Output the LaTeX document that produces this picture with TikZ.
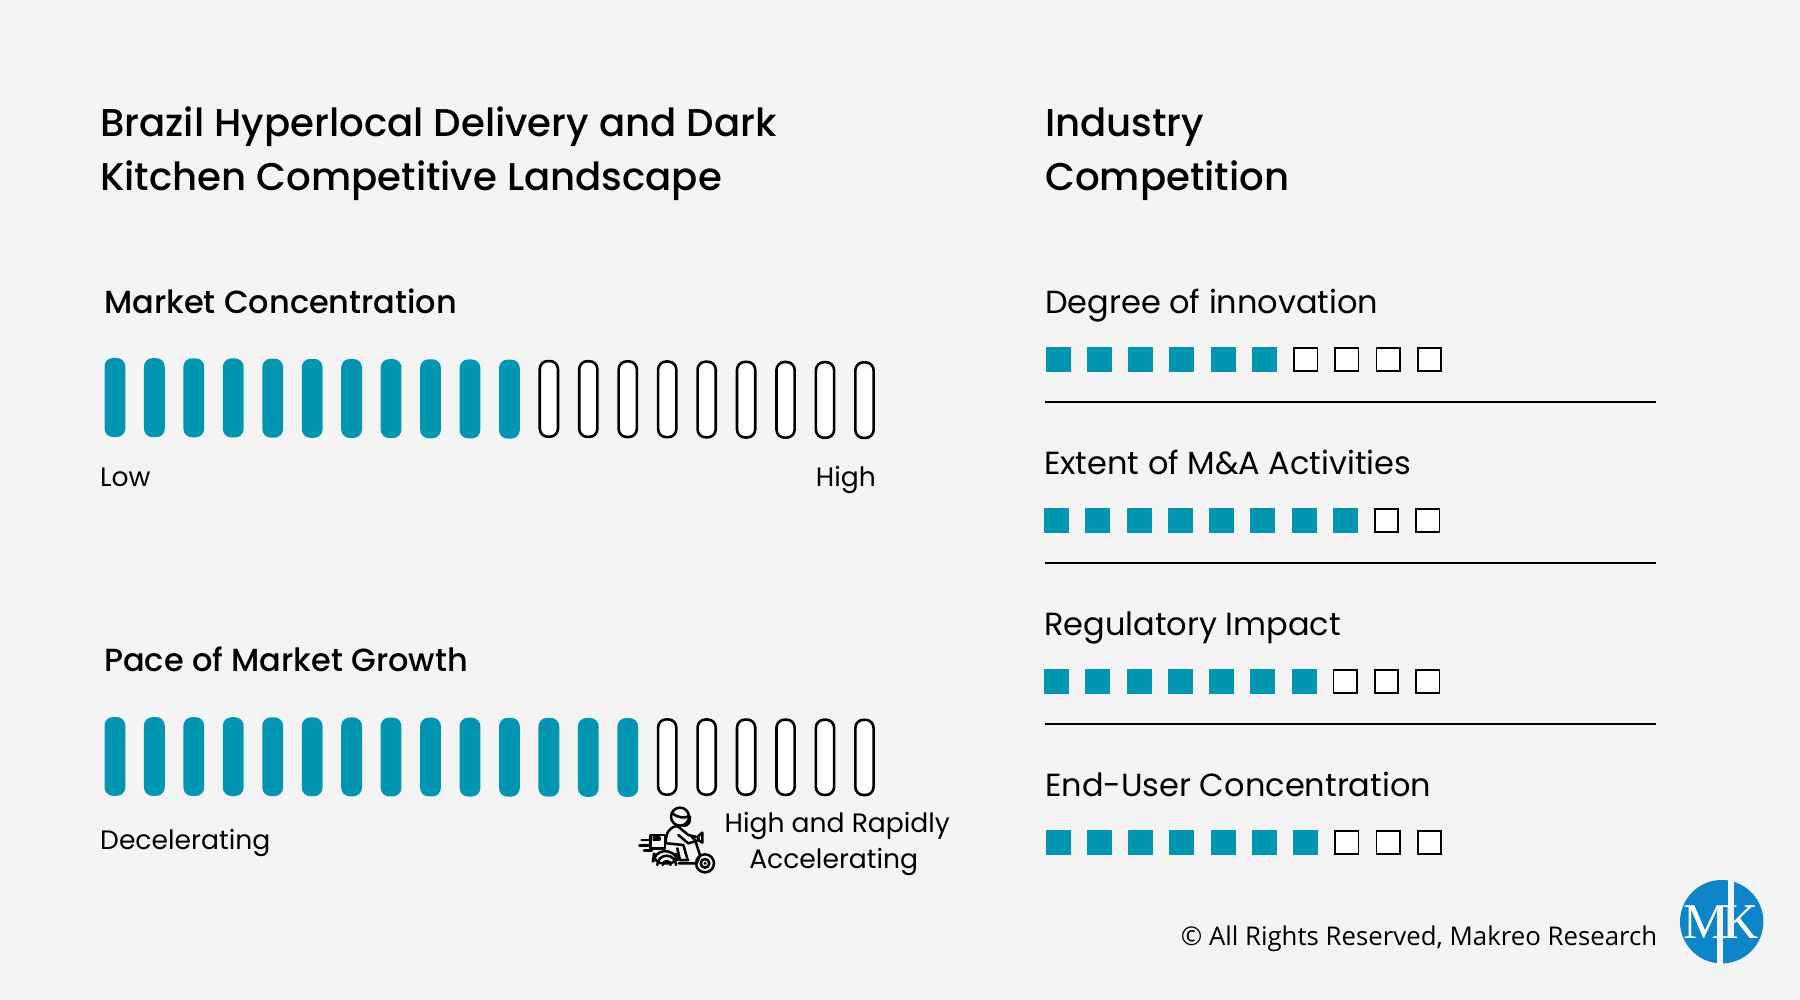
\documentclass[tikz,border=0pt]{standalone}
\usepackage{fontspec}
\setmainfont{Poppins}
\newfontfamily\pmed{Poppins Medium}
\newfontfamily\osans{Open Sans}
\newfontfamily\lserif{Liberation Serif}
\definecolor{bgc}{HTML}{F4F4F4}
\definecolor{teal}{HTML}{0396B3}
\definecolor{logoblue}{HTML}{0E85C8}
\tikzset{
  x=1pt,y=-1pt,
  ttl/.style={anchor=base west,inner sep=0pt,font=\pmed\fontsize{38.7}{38.7}\selectfont},
  head/.style={anchor=base west,inner sep=0pt,font=\pmed\fontsize{32}{38}\selectfont},
  sub/.style={anchor=base west,inner sep=0pt,font=\fontsize{32}{38}\selectfont},
  small/.style={inner sep=0pt,font=\fontsize{26.6}{36}\selectfont},
  barfull/.style={fill=teal,rounded corners=8.5pt},
  barempty/.style={draw=black,fill=white,line width=2.6pt,rounded corners=8pt},
  sqfull/.style={fill=teal},
  sqempty/.style={draw=black,fill=white,line width=1.6pt},
  rule/.style={draw=black,line width=2pt},
  ico/.style={draw=black,line width=2.5pt,line cap=round,line join=round},
  logotxt/.style={inner sep=0pt,text=white,font=\lserif\fontsize{50}{50}\selectfont,anchor=base},
}
\begin{document}
\begin{tikzpicture}
\path[fill=bgc] (0,0) rectangle (1800,1000);
\useasboundingbox (0,0) rectangle (1800,1000);
% titles
\node[ttl] (t1) at (100,137) {Brazil Hyperlocal Delivery and Dark};
\node[ttl] (t2) at (100,191) {Kitchen Competitive Landscape};
\node[ttl] (t3) at (1045,137) {Industry};
\node[ttl] (t4) at (1045,191) {Competition};
% left headings
\node[head] (mc) at (104,314) {Market Concentration};
\node[head] (pg) at (104,671) {Pace of Market Growth};
% bars row 1
\foreach \i in {0,...,19}{
  \pgfmathsetmacro{\xa}{104.5+\i*39.45}
  \pgfmathsetmacro{\ya}{358+\i*0.16}
  \ifnum\i<11
    \path[barfull] (\xa,\ya) rectangle ++(20.8,79);
  \else
    \path[barempty] (\xa+1.3,\ya+1.3) rectangle ++(18.2,75.6);
  \fi
}
% bars row 2
\foreach \i in {0,...,19}{
  \pgfmathsetmacro{\xa}{104.5+\i*39.45}
  \pgfmathsetmacro{\ya}{717+\i*0.08}
  \ifnum\i<14
    \path[barfull] (\xa,\ya) rectangle ++(20.8,78.8);
  \else
    \path[barempty] (\xa+1.3,\ya+1.3) rectangle ++(18.2,75.2);
  \fi
}
\node[small,anchor=base west] (low) at (100,486) {Low};
\node[small,anchor=base east] (high) at (876,486) {High};
\node[small,anchor=base west] (dec) at (100,849) {Decelerating};
\node[small,anchor=base] (hr) at (837.3,832) {High and Rapidly};
\node[small,anchor=base] (ac) at (833.7,868.5) {Accelerating};
% right column
\node[sub] (d1) at (1045,314) {Degree of innovation};
\node[sub] (d2) at (1044,474) {Extent of M\&A Activities};
\node[sub] (d3) at (1044,635) {Regulatory Impact};
\node[sub] (d4) at (1045,796) {End-User Concentration};
\foreach \yy/\xx/\n in {347/1045.7/6,508/1044/8,669/1044/7,830/1045.7/7}{
  \foreach \i in {0,...,9}{
    \pgfmathsetmacro{\xa}{\xx+\i*41.25}
    \ifnum\i<\n
      \path[sqfull] (\xa,\yy) rectangle ++(25,25);
    \else
      \path[sqempty] (\xa+.8,\yy+.8) rectangle ++(23.4,23.4);
    \fi
  }
}
\draw[rule] (1045,402) -- (1656,402);
\draw[rule] (1045,563) -- (1656,563);
\draw[rule] (1045,724) -- (1656,724);
% footer
\node[anchor=base east,inner sep=0pt,font=\osans\fontsize{25.8}{30}\selectfont] (fo) at (1657.5,945.3) {© All Rights Reserved, Makreo Research};
% logo
\fill[logoblue] (1721.7,921.7) circle (41.7);
\node[logotxt] (lm) at (1705.5,938.3) {M};
\node[logotxt] (lk) at (1741,938.3) {K};
\fill[bgc] (1717.3,907) rectangle (1723.3,964);
\fill[bgc] (1728.3,880) rectangle (1734,938);
% rider icon
\begin{scope}[shift={(620,780)},xscale=1/3,yscale=1/3]
\draw[ico] (180,110) circle (27);
\draw[ico] (158,100) .. controls (175,115) and (195,115) .. (207,108);
\draw[ico] (190,138) .. controls (205,138) and (212,125) .. (210,110);
\draw[ico] (137,190) .. controls (138,160) and (145,142) .. (172,138);
\draw[ico] (172,138) -- (205,165) -- (235,172);
\draw[ico] (175,165) -- (205,190) -- (232,182);
\draw[ico] (140,190) -- (190,195) -- (203,240);
\draw[ico] (172,205) -- (180,240) -- (205,240);
\draw[ico] (92,165) rectangle (135,205);
\draw[ico] (100,172) -- (118,172) -- (118,180) -- (100,180);
\draw[ico] (65,180) -- (90,180);
\draw[ico] (58,197) -- (90,197);
\draw[ico] (72,212) -- (95,212);
\draw[ico,rounded corners=10pt] (98,250) -- (103,215) -- (165,212) -- (176,250) -- cycle;
\draw[ico] (176,250) -- (230,250) -- (240,225);
\draw[ico] (215,170) -- (225,180) -- (240,225);
\draw[ico] (247,158) -- (247,188) -- (235,180) -- (235,168) -- cycle;
\draw[ico] (112,255) arc (180:360:28);
\draw[ico] (128,255) arc (180:360:12);
\draw[ico] (255,250) circle (27);
\draw[ico] (255,250) circle (13);
\fill (255,250) circle (5);
\end{scope}
\end{tikzpicture}
\end{document}
